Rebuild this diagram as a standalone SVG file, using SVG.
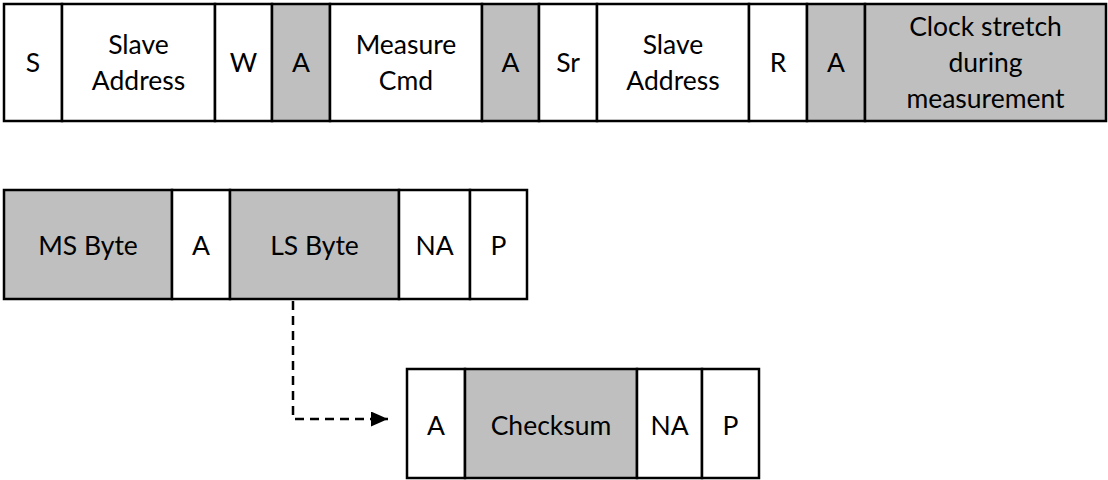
<svg xmlns="http://www.w3.org/2000/svg" width="1108" height="480" viewBox="0 0 1108 480">
<defs>
<style>
.c{fill:#ffffff;stroke:#000000;stroke-width:2.5}
.g{fill:#bfbfbf;stroke:#000000;stroke-width:2.5}
text{font-family:Lato,"Open Sans","Liberation Sans",sans-serif;font-size:26.5px;fill:#000000;text-anchor:middle}
.conn{fill:none;stroke:#000000;stroke-width:2.5;stroke-dasharray:9 6}
</style>
<marker id="arr" markerWidth="17" markerHeight="15" refX="17" refY="7.5" orient="auto" markerUnits="userSpaceOnUse">
<path d="M0,0 L17,7.5 L0,15 Z" fill="#000000"/>
</marker>
</defs>
<rect width="1108" height="480" fill="#ffffff"/>
<g id="row1">
<g id="n-s"><rect class="c" x="4" y="4" width="58" height="117"/><text x="33" y="72">S</text></g>
<g id="n-addr1"><rect class="c" x="62" y="4" width="153" height="117"/><text x="138.5" y="54">Slave</text><text x="138.5" y="90">Address</text></g>
<g id="n-w"><rect class="c" x="215" y="4" width="57" height="117"/><text x="243.5" y="72">W</text></g>
<g id="n-a1"><rect class="g" x="272" y="4" width="58" height="117"/><text x="301" y="72">A</text></g>
<g id="n-cmd"><rect class="c" x="330" y="4" width="152" height="117"/><text x="406" y="54">Measure</text><text x="406" y="90">Cmd</text></g>
<g id="n-a2"><rect class="g" x="482" y="4" width="57" height="117"/><text x="510.5" y="72">A</text></g>
<g id="n-sr"><rect class="c" x="539" y="4" width="58" height="117"/><text x="568" y="72">Sr</text></g>
<g id="n-addr2"><rect class="c" x="597" y="4" width="152" height="117"/><text x="673" y="54">Slave</text><text x="673" y="90">Address</text></g>
<g id="n-r"><rect class="c" x="749" y="4" width="58" height="117"/><text x="778" y="72">R</text></g>
<g id="n-a3"><rect class="g" x="807" y="4" width="58" height="117"/><text x="836" y="72">A</text></g>
<g id="n-clk"><rect class="g" x="865" y="4" width="241" height="117"/><text x="985.5" y="36">Clock stretch</text><text x="985.5" y="72">during</text><text x="985.5" y="108">measurement</text></g>
</g>
<g id="row2">
<g id="n-ms"><rect class="g" x="4" y="190" width="168" height="109"/><text x="88" y="255">MS Byte</text></g>
<g id="n-a4"><rect class="c" x="172" y="190" width="58" height="109"/><text x="201" y="255">A</text></g>
<g id="n-ls"><rect class="g" x="230" y="190" width="169" height="109"/><text x="314.5" y="255">LS Byte</text></g>
<g id="n-na1"><rect class="c" x="399" y="190" width="71" height="109"/><text x="434.5" y="255">NA</text></g>
<g id="n-p1"><rect class="c" x="470" y="190" width="57" height="109"/><text x="498.5" y="255">P</text></g>
</g>
<g id="row3">
<g id="n-a5"><rect class="c" x="407" y="369" width="58" height="109"/><text x="436" y="435">A</text></g>
<g id="n-crc"><rect class="g" x="465" y="369" width="172" height="109"/><text x="551" y="435">Checksum</text></g>
<g id="n-na2"><rect class="c" x="637" y="369" width="65" height="109"/><text x="669.5" y="435">NA</text></g>
<g id="n-p2"><rect class="c" x="702" y="369" width="57" height="109"/><text x="730.5" y="435">P</text></g>
</g>
<g id="connectors">
<path class="conn" d="M293,301 L293,419 L388,419" marker-end="url(#arr)"/>
</g>
</svg>
